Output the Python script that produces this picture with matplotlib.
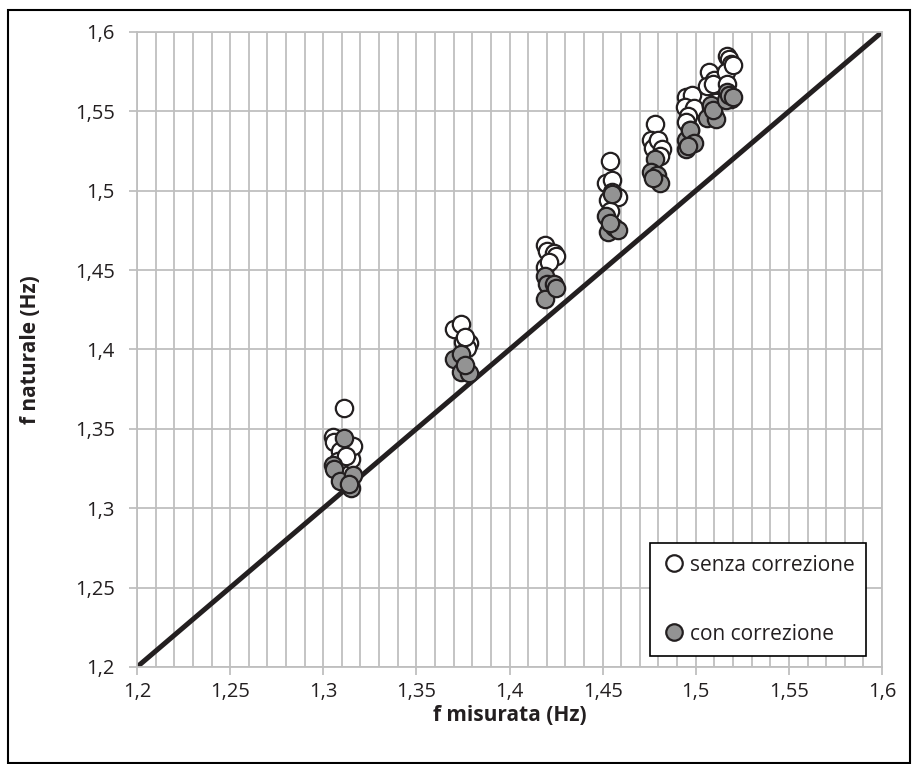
import numpy as np
import matplotlib
matplotlib.use('Agg')
import matplotlib.pyplot as plt
from matplotlib.ticker import MultipleLocator, FuncFormatter
from matplotlib.patches import Rectangle

plt.rcParams['font.family'] = ['Open Sans', 'DejaVu Sans']

# senza correzione (white markers)
x_senza = [1.305, 1.306, 1.311, 1.309, 1.315, 1.316, 1.308, 1.312,
           1.370, 1.374, 1.375, 1.378, 1.377, 1.376,
           1.419, 1.420, 1.419, 1.424, 1.425, 1.421,
           1.454, 1.452, 1.455, 1.453, 1.456, 1.458, 1.454, 1.455,
           1.478, 1.476, 1.479, 1.477, 1.480, 1.482, 1.481,
           1.495, 1.498, 1.494, 1.499, 1.496, 1.495, 1.497,
           1.507, 1.510, 1.506, 1.509, 1.511, 1.508,
           1.517, 1.518, 1.519, 1.516, 1.520, 1.517]
y_senza = [1.345, 1.342, 1.363, 1.336, 1.331, 1.339, 1.330, 1.333,
           1.413, 1.416, 1.405, 1.404, 1.401, 1.408,
           1.466, 1.462, 1.452, 1.461, 1.459, 1.455,
           1.519, 1.505, 1.507, 1.494, 1.497, 1.496, 1.487, 1.499,
           1.542, 1.532, 1.530, 1.527, 1.532, 1.526, 1.522,
           1.559, 1.560, 1.553, 1.552, 1.547, 1.543, 1.538,
           1.575, 1.570, 1.566, 1.567, 1.556, 1.553,
           1.585, 1.583, 1.580, 1.575, 1.579, 1.567]

# con correzione (grey markers)
x_con = [1.305, 1.306, 1.311, 1.309, 1.316, 1.315, 1.314,
         1.370, 1.374, 1.374, 1.378, 1.376,
         1.419, 1.420, 1.419, 1.424, 1.425,
         1.452, 1.455, 1.453, 1.456, 1.458, 1.454,
         1.478, 1.476, 1.479, 1.481, 1.477,
         1.495, 1.497, 1.495, 1.499, 1.496,
         1.508, 1.510, 1.506, 1.511, 1.509,
         1.517, 1.519, 1.516, 1.518, 1.520]
y_con = [1.327, 1.325, 1.344, 1.317, 1.321, 1.313, 1.315,
         1.394, 1.397, 1.386, 1.385, 1.390,
         1.446, 1.441, 1.432, 1.441, 1.439,
         1.484, 1.498, 1.474, 1.477, 1.475, 1.480,
         1.520, 1.512, 1.510, 1.505, 1.508,
         1.532, 1.538, 1.526, 1.530, 1.528,
         1.554, 1.548, 1.546, 1.545, 1.551,
         1.562, 1.558, 1.557, 1.560, 1.559]

line_x = [1.2, 1.6]
line_y = [1.2, 1.6]

fig = plt.figure(figsize=(9.13, 7.64), dpi=100)
ax = fig.add_axes([137/913, 97/764, 745/913, 635/764])

ax.set_xlim(1.2, 1.6)
ax.set_ylim(1.2, 1.6)
ax.xaxis.set_major_locator(MultipleLocator(0.05))
ax.xaxis.set_minor_locator(MultipleLocator(0.01))
ax.yaxis.set_major_locator(MultipleLocator(0.05))
ax.grid(True, which='major', color='#bfbfbf', lw=1.3)
ax.grid(True, which='minor', axis='x', color='#bfbfbf', lw=1.3)
ax.set_axisbelow(True)

fmt = FuncFormatter(lambda v, p: ('%g' % round(v, 2)).replace('.', ','))
ax.xaxis.set_major_formatter(fmt)
ax.yaxis.set_major_formatter(fmt)
ax.tick_params(which='major', axis='x', length=6, width=1.3, color='#bfbfbf',
               labelsize=14.5, pad=5, labelcolor='#231f20')
ax.tick_params(which='major', axis='y', length=6, width=1.3, color='#bfbfbf',
               labelsize=14.5, pad=10, labelcolor='#231f20')
ax.tick_params(which='minor', length=0)
for s in ax.spines.values():
    s.set_color('#bfbfbf')
    s.set_linewidth(1.3)

ax.plot(line_x, line_y, color='#231f20', lw=3.6, zorder=2)
ax.plot(x_senza, y_senza, 'o', ms=12.5, mfc='white', mec='#231f20', mew=1.6,
        label='senza correzione', zorder=3)
ax.plot(x_con, y_con, 'o', ms=12.5, mfc='#939393', mec='#231f20', mew=1.6,
        label='con correzione', zorder=4)

leg = ax.legend(loc='lower right', bbox_to_anchor=(0.9785, 0.0173), fontsize=15,
                labelspacing=2.3, handlelength=1.2, handletextpad=0.15,
                borderpad=0.55, fancybox=False, framealpha=1, edgecolor='black',
                borderaxespad=0, markerscale=0.95, labelcolor='#231f20')
leg.get_frame().set_linewidth(1.2)

ax.set_xlabel('f misurata (Hz)', fontsize=15, fontweight='bold', color='#231f20', va='center')
ax.set_ylabel('f naturale (Hz)', fontsize=15, fontweight='bold', color='#231f20', va='center')
ax.xaxis.set_label_coords(0.5, -0.077)
ax.yaxis.set_label_coords(-0.1436, 0.5)

fig.patches.append(Rectangle((8/913, 1/764), 902/913, 753/764, transform=fig.transFigure,
                             fill=False, edgecolor='black', lw=1.5))

fig.savefig('out.png', dpi=100)
